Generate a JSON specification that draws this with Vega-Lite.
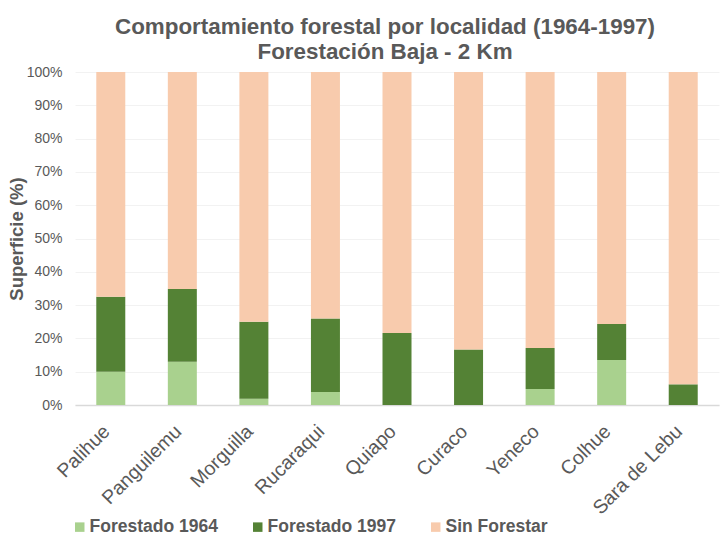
{
  "$schema": "https://vega.github.io/schema/vega-lite/v6.json",
  "width": 644,
  "height": 333,
  "autosize": {"type": "none"},
  "padding": {"left": 75, "top": 72, "right": 9, "bottom": 145},
  "background": "white",
  "title": {
    "text": ["Comportamiento forestal por localidad (1964-1997)", "Forestación Baja - 2 Km"],
    "anchor": "middle",
    "frame": "group",
    "dx": -12,
    "font": "Liberation Sans",
    "fontSize": 22.4,
    "fontWeight": "bold",
    "color": "#595959",
    "lineHeight": 25,
    "offset": 2
  },
  "data": {
    "values": [
      {"localidad": "Palihue", "categoria": "Forestado 1964", "valor": 10.0},
      {"localidad": "Palihue", "categoria": "Forestado 1997", "valor": 22.5},
      {"localidad": "Palihue", "categoria": "Sin Forestar", "valor": 67.5},
      {"localidad": "Panguilemu", "categoria": "Forestado 1964", "valor": 13.0},
      {"localidad": "Panguilemu", "categoria": "Forestado 1997", "valor": 21.8},
      {"localidad": "Panguilemu", "categoria": "Sin Forestar", "valor": 65.2},
      {"localidad": "Morguilla", "categoria": "Forestado 1964", "valor": 1.9},
      {"localidad": "Morguilla", "categoria": "Forestado 1997", "valor": 23.1},
      {"localidad": "Morguilla", "categoria": "Sin Forestar", "valor": 75.0},
      {"localidad": "Rucaraqui", "categoria": "Forestado 1964", "valor": 3.9},
      {"localidad": "Rucaraqui", "categoria": "Forestado 1997", "valor": 22.1},
      {"localidad": "Rucaraqui", "categoria": "Sin Forestar", "valor": 74.0},
      {"localidad": "Quiapo", "categoria": "Forestado 1964", "valor": 0.0},
      {"localidad": "Quiapo", "categoria": "Forestado 1997", "valor": 21.6},
      {"localidad": "Quiapo", "categoria": "Sin Forestar", "valor": 78.4},
      {"localidad": "Curaco", "categoria": "Forestado 1964", "valor": 0.0},
      {"localidad": "Curaco", "categoria": "Forestado 1997", "valor": 16.7},
      {"localidad": "Curaco", "categoria": "Sin Forestar", "valor": 83.3},
      {"localidad": "Yeneco", "categoria": "Forestado 1964", "valor": 4.8},
      {"localidad": "Yeneco", "categoria": "Forestado 1997", "valor": 12.3},
      {"localidad": "Yeneco", "categoria": "Sin Forestar", "valor": 82.9},
      {"localidad": "Colhue", "categoria": "Forestado 1964", "valor": 13.5},
      {"localidad": "Colhue", "categoria": "Forestado 1997", "valor": 10.8},
      {"localidad": "Colhue", "categoria": "Sin Forestar", "valor": 75.7},
      {"localidad": "Sara de Lebu", "categoria": "Forestado 1964", "valor": 0.0},
      {"localidad": "Sara de Lebu", "categoria": "Forestado 1997", "valor": 6.2},
      {"localidad": "Sara de Lebu", "categoria": "Sin Forestar", "valor": 93.8}
    ]
  },
  "mark": {"type": "bar", "width": 29},
  "encoding": {
    "x": {
      "field": "localidad",
      "type": "nominal",
      "sort": null,
      "scale": {"paddingInner": 0, "paddingOuter": 0},
      "axis": {
        "title": null,
        "labelAngle": -45,
        "labelAlign": "right",
        "labelBaseline": "middle",
        "labelFont": "Liberation Sans",
        "labelFontSize": 19.5,
        "labelColor": "#595959",
        "labelPadding": 23,
        "labelOffset": -4,
        "ticks": false,
        "domainColor": "#D9D9D9",
        "domainWidth": 1.5,
        "grid": false
      }
    },
    "y": {
      "field": "valor",
      "type": "quantitative",
      "stack": "normalize",
      "scale": {"domain": [0, 1]},
      "axis": {
        "title": "Superficie (%)",
        "titleFont": "Liberation Sans",
        "titleFontSize": 18.5,
        "titleFontWeight": "bold",
        "titleColor": "#595959",
        "titlePadding": 0,
        "values": [0, 0.1, 0.2, 0.3, 0.4, 0.5, 0.6, 0.7, 0.8, 0.9, 1],
        "format": ".0%",
        "labelFont": "Liberation Sans",
        "labelFontSize": 14,
        "labelColor": "#595959",
        "labelPadding": 13,
        "ticks": false,
        "domain": false,
        "grid": true,
        "gridColor": "#F2F2F2",
        "gridWidth": 1
      }
    },
    "order": {"field": "categoria", "type": "nominal", "sort": "ascending"},
    "color": {
      "field": "categoria",
      "type": "nominal",
      "scale": {
        "domain": ["Forestado 1964", "Forestado 1997", "Sin Forestar"],
        "range": ["#A9D18E", "#548235", "#F8CBAD"]
      },
      "legend": {
        "title": null,
        "orient": "none",
        "direction": "horizontal",
        "legendX": -4,
        "legendY": 446,
        "symbolType": "square",
        "symbolSize": 90,
        "symbolStrokeWidth": 0,
        "labelFont": "Liberation Sans",
        "labelFontSize": 17.5,
        "labelFontWeight": "bold",
        "labelColor": "#595959",
        "labelOffset": 1,
        "columnPadding": 31
      }
    }
  },
  "config": {
    "view": {"stroke": null}
  }
}
